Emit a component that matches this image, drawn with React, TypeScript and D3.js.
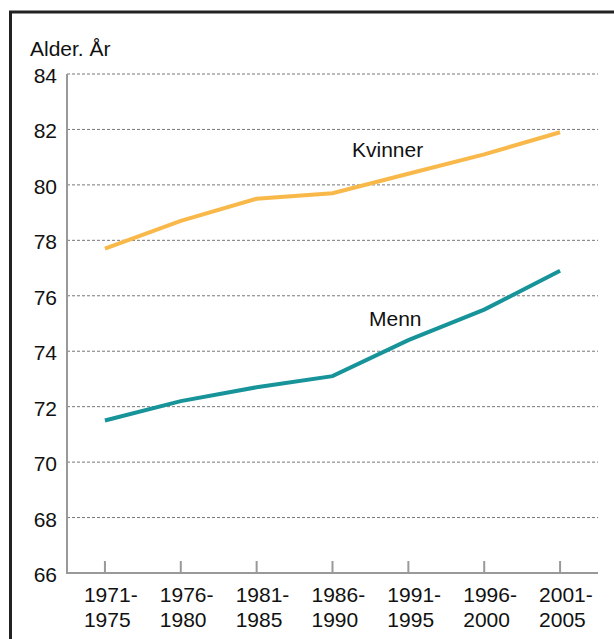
import React from "react";
import * as d3 from "d3";

const periods = [
  ["1971-", "1975"],
  ["1976-", "1980"],
  ["1981-", "1985"],
  ["1986-", "1990"],
  ["1991-", "1995"],
  ["1996-", "2000"],
  ["2001-", "2005"],
];
const kvinner = [77.7, 78.7, 79.5, 79.7, 80.4, 81.1, 81.9];
const menn = [71.5, 72.2, 72.7, 73.1, 74.4, 75.5, 76.9];
const yTicks = [66, 68, 70, 72, 74, 76, 78, 80, 82, 84];

const W = 614;
const H = 639;
const left = 67;
const right = 598;
const top = 74;
const bottom = 573;
const font = "Arial, 'Liberation Sans', Helvetica, sans-serif";

export default function App() {
  const keys = periods.map((p) => p.join(""));
  const x = d3.scaleBand<string>().domain(keys).range([left, right]).padding(0);
  const y = d3.scaleLinear().domain([66, 84]).range([bottom, top]);
  const cx = (i: number) => (x(keys[i]) as number) + x.bandwidth() / 2;
  const line = d3
    .line<number>()
    .x((_, i) => cx(i))
    .y((d) => y(d));

  return (
    <svg
      width={W}
      height={H}
      style={{ position: "absolute", left: 0, top: 0, background: "#fff" }}
      fontFamily={font}
    >
      <rect x={0} y={0} width={W} height={H} fill="#fff" />
      {/* frame */}
      <path d={`M10.5,${H} L10.5,12 L${W},12`} fill="none" stroke="#222" strokeWidth={3} />

      {/* gridlines */}
      {yTicks.map((t) =>
        t === 66 ? null : (
          <line
            key={t}
            x1={left}
            x2={right}
            y1={y(t)}
            y2={y(t)}
            stroke="#777"
            strokeWidth={1}
            strokeDasharray="3,2"
          />
        )
      )}

      {/* y tick labels */}
      {yTicks.map((t) => (
        <text
          key={"l" + t}
          x={57}
          y={y(t) + 9}
          textAnchor="end"
          fontSize={21}
          fill="#111"
        >
          {t}
        </text>
      ))}

      {/* axes */}
      <line x1={left} x2={left} y1={top} y2={bottom} stroke="#999" strokeWidth={2} />
      <line x1={left - 1} x2={right} y1={bottom} y2={bottom} stroke="#999" strokeWidth={2} />
      {keys.map((k, i) => (
        <line
          key={"t" + k}
          x1={cx(i)}
          x2={cx(i)}
          y1={bottom}
          y2={bottom - 12}
          stroke="#999"
          strokeWidth={2}
        />
      ))}

      {/* x tick labels */}
      {periods.map((p, i) => (
        <text key={"x" + i} fontSize={21} fill="#111">
          <tspan x={cx(i) - 21} y={601.5}>
            {p[0]}
          </tspan>
          <tspan x={cx(i) - 21} y={626.5}>
            {p[1]}
          </tspan>
        </text>
      ))}

      {/* lines */}
      <path d={line(kvinner) || ""} fill="none" stroke="#F9B84A" strokeWidth={4} />
      <path d={line(menn) || ""} fill="none" stroke="#17939A" strokeWidth={4} />

      {/* labels */}
      <text x={352} y={157} fontSize={21} fill="#111">
        Kvinner
      </text>
      <text x={369} y={326} fontSize={21} fill="#111">
        Menn
      </text>
      <text x={30} y={56} fontSize={21} fill="#111">
        Alder. År
      </text>
    </svg>
  );
}
